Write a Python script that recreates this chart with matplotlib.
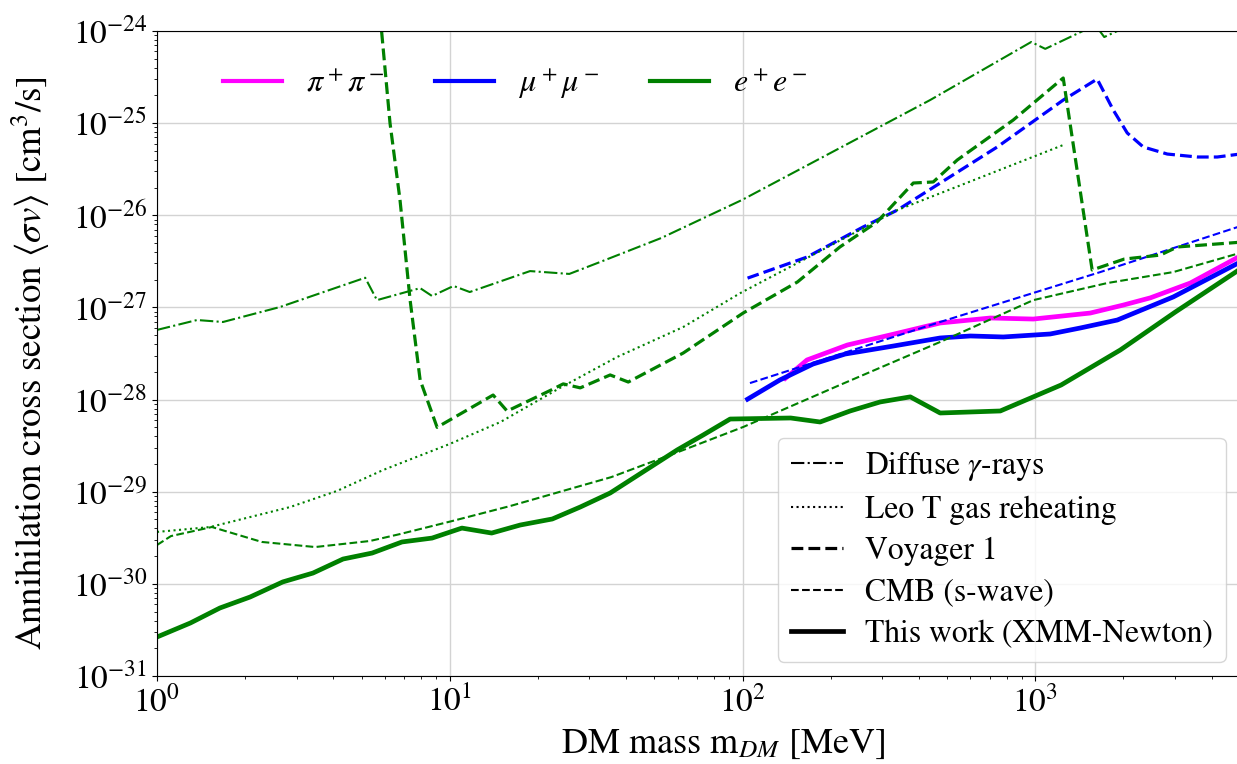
import numpy as np
import matplotlib
matplotlib.use("Agg")
import matplotlib.pyplot as plt
from matplotlib.lines import Line2D

plt.rcParams['font.family'] = 'STIXGeneral'
plt.rcParams['mathtext.fontset'] = 'stix'

# --- e+e- channel ---------------------------------------------------------
m_diffuse_ee = [1.0, 1.37, 1.68, 2.63, 5.14, 5.64, 7.92, 8.70, 10.3, 11.7,
                18.8, 25.6, 32.6, 52.7, 99.7, 437, 968, 1081, 1603, 1719, 2280]
sv_diffuse_ee = [5.7e-28, 7.3e-28, 6.95e-28, 1.01e-27, 2.10e-27, 1.20e-27,
                 1.62e-27, 1.33e-27, 1.71e-27, 1.47e-27, 2.48e-27, 2.31e-27,
                 3.11e-27, 5.66e-27, 1.47e-26, 1.78e-25, 7.6e-25, 6.4e-25,
                 1.16e-24, 8.6e-25, 1.3e-24]

m_leot_ee = [1.0, 1.52, 2.08, 2.85, 4.12, 5.92, 10.0, 14.9, 23.8, 37.3,
             62.7, 98.2, 166, 338, 1245]
sv_leot_ee = [3.66e-30, 4.14e-30, 5.31e-30, 6.82e-30, 1.02e-29, 1.72e-29,
              3.30e-29, 5.71e-29, 1.34e-28, 2.90e-28, 6.13e-28, 1.43e-27,
              3.44e-27, 1.14e-26, 5.79e-26]

m_voyager_ee = [5.78, 6.25, 6.76, 7.32, 7.92, 9.05, 14.06, 15.7, 22.2, 24.4,
                27.9, 35.3, 40.7, 62.7, 100.5, 154, 215, 288, 383, 448, 541,
                840, 1245, 1563, 2013, 2672, 3054, 5000]
sv_voyager_ee = [1.5e-24, 1.0e-25, 1.47e-26, 1.20e-27, 1.63e-28, 5.0e-29,
                 1.12e-28, 7.5e-29, 1.27e-28, 1.48e-28, 1.34e-28, 1.85e-28,
                 1.55e-28, 3.20e-28, 8.7e-28, 1.89e-27, 4.53e-27, 8.46e-27,
                 2.24e-26, 2.30e-26, 3.98e-26, 1.08e-25, 3.09e-25, 2.55e-27,
                 3.35e-27, 3.70e-27, 4.53e-27, 5.1e-27]

m_cmb_ee = [1.0, 1.116, 1.54, 2.28, 3.47, 5.34, 6.76, 10.2, 16.1, 35.6,
            60.3, 100.5, 215, 473, 984, 1762, 2959, 5000]
sv_cmb_ee = [2.64e-30, 3.30e-30, 4.14e-30, 2.85e-30, 2.51e-30, 2.92e-30,
             3.47e-30, 4.81e-30, 7.0e-30, 1.44e-29, 2.70e-29, 5.04e-29,
             1.44e-28, 4.22e-28, 1.20e-27, 1.84e-27, 2.42e-27, 3.9e-27]

m_xmm_ee = [1.0, 1.30, 1.64, 2.08, 2.69, 3.41, 4.32, 5.43, 6.87, 8.70, 11.0,
            13.9, 17.4, 22.4, 27.9, 35.3, 45.7, 59.8, 73.3, 90.7, 146, 184,
            233, 295, 374, 473, 759, 1225, 1950, 3006, 5000]
sv_xmm_ee = [2.65e-31, 3.76e-31, 5.47e-31, 7.20e-31, 1.05e-30, 1.31e-30,
             1.86e-30, 2.16e-30, 2.85e-30, 3.14e-30, 4.03e-30, 3.56e-30,
             4.35e-30, 5.06e-30, 6.82e-30, 9.68e-30, 1.64e-29, 2.84e-29,
             4.12e-29, 6.15e-29, 6.31e-29, 5.71e-29, 7.52e-29, 9.42e-29,
             1.07e-28, 7.15e-29, 7.52e-29, 1.44e-28, 3.45e-28, 8.91e-28,
             2.6e-27]

# --- mu+mu- channel -------------------------------------------------------
m_voyager_mm = [104, 166, 258, 338, 741, 1245, 1626, 1845, 2060, 2337, 2823,
                3575, 4180, 5000]
sv_voyager_mm = [2.08e-27, 3.52e-27, 7.46e-27, 1.14e-26, 5.51e-26, 1.78e-25,
                 3.01e-25, 1.39e-25, 7.82e-26, 5.51e-26, 4.62e-26, 4.29e-26,
                 4.29e-26, 4.62e-26]

m_cmb_mm = [106, 473, 1667, 5000]
sv_cmb_mm = [1.51e-28, 6.95e-28, 2.42e-27, 7.6e-27]

m_xmm_mm = [104, 134, 174, 224, 327, 473, 600, 777, 1124, 1423, 1905, 2959,
            5000]
sv_xmm_mm = [1.01e-28, 1.63e-28, 2.43e-28, 3.12e-28, 3.81e-28, 4.66e-28,
             4.90e-28, 4.78e-28, 5.15e-28, 5.98e-28, 7.30e-28, 1.30e-27,
             3.1e-27]

# --- pi+pi- channel -------------------------------------------------------
m_xmm_pp = [140, 166, 228, 319, 473, 702, 984, 1540, 1995, 2470, 3384, 5000]
sv_xmm_pp = [1.7e-28, 2.69e-28, 3.91e-28, 5.02e-28, 6.78e-28, 7.68e-28,
             7.48e-28, 8.69e-28, 1.06e-27, 1.27e-27, 1.84e-27, 3.6e-27]

# major ticks
xticks = [1, 10, 100, 1000]
yticks = [1e-31, 1e-30, 1e-29, 1e-28, 1e-27, 1e-26, 1e-25, 1e-24]

W, H = 1237, 764
fig = plt.figure(figsize=(W / 100, H / 100), dpi=100)
x0, x1, y0, y1 = 157, 1240, 31, 676
ax = fig.add_axes([x0 / W, 1 - y1 / H, (x1 - x0) / W, (y1 - y0) / H])

lw_thin = 1.5
lw_voy = 2.3
lw_xmm = 3.4

# pi+pi-
ax.plot(m_xmm_pp, sv_xmm_pp, color='magenta', lw=lw_xmm)

# mu+mu-
ax.plot(m_voyager_mm, sv_voyager_mm, color='blue', ls='--', lw=lw_voy)
ax.plot(m_cmb_mm, sv_cmb_mm, color='blue', ls='--', lw=lw_thin)
ax.plot(m_xmm_mm, sv_xmm_mm, color='blue', lw=lw_xmm)

# e+e-
ax.plot(m_diffuse_ee, sv_diffuse_ee, color='green', ls='-.', lw=lw_thin)
ax.plot(m_leot_ee, sv_leot_ee, color='green', ls=':', lw=lw_thin)
ax.plot(m_voyager_ee, sv_voyager_ee, color='green', ls='--', lw=lw_voy)
ax.plot(m_cmb_ee, sv_cmb_ee, color='green', ls='--', lw=lw_thin)
ax.plot(m_xmm_ee, sv_xmm_ee, color='green', lw=lw_xmm)

ax.set_xscale('log')
ax.set_yscale('log')
ax.set_xticks(xticks)
ax.set_yticks(yticks)
ax.set_xlim(1, 5000)
ax.set_ylim(1e-31, 1e-24)
ax.grid(True, which='major', color='#d3d3d3', lw=1.0)
ax.set_axisbelow(True)
ax.tick_params(labelsize=24)

ax.set_xlabel(r'DM mass m$_{DM}$ [MeV]', fontsize=26)
ax.xaxis.set_label_coords(0.523, -0.08)
ax.set_ylabel(r'Annihilation cross section $\langle\sigma v\rangle$ [cm$^3$/s]',
              fontsize=26.5)
ax.yaxis.set_label_coords(-0.097, 0.485)

# channel legend (colours)
chan_handles = [Line2D([], [], color='magenta', lw=3),
                Line2D([], [], color='blue', lw=3),
                Line2D([], [], color='green', lw=3)]
chan_labels = [r'$\pi^+\pi^-$', r'$\mu^+\mu^-$', r'$e^+e^-$']
leg1 = ax.legend(chan_handles, chan_labels, ncol=3, frameon=False,
                 fontsize=23, loc='upper left', bbox_to_anchor=(0.034, 0.99),
                 handlelength=1.85, handletextpad=0.75, columnspacing=1.6)
ax.add_artist(leg1)

# constraint legend (line styles)
style_handles = [Line2D([], [], color='black', ls='-.', lw=lw_thin),
                 Line2D([], [], color='black', ls=':', lw=lw_thin),
                 Line2D([], [], color='black', ls='--', lw=lw_voy),
                 Line2D([], [], color='black', ls='--', lw=lw_thin),
                 Line2D([], [], color='black', lw=lw_xmm)]
style_labels = [r'Diffuse $\gamma$-rays', 'Leo T gas reheating', 'Voyager 1',
                'CMB (s-wave)', 'This work (XMM-Newton)']
ax.legend(style_handles, style_labels, loc='lower right', fontsize=22.8,
          handlelength=1.65, handletextpad=0.7, labelspacing=0.38,
          borderpad=0.4, borderaxespad=0.45)

fig.savefig('out.png', dpi=100)
